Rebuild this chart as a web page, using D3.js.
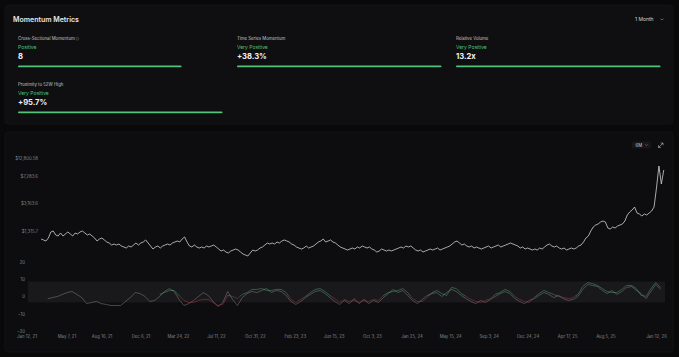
<!DOCTYPE html>
<html><head><meta charset="utf-8">
<script src="https://cdn.jsdelivr.net/npm/d3@7"></script>
<style>
html,body{margin:0;padding:0;background:#0a0a0b;overflow:hidden}
svg{display:block;font-family:Inter,"Noto Sans",sans-serif}
</style>
</head><body>
<svg id="c" width="679" height="357"></svg>
<script>
// ---------- data ----------
const panelTitle = "Momentum Metrics";
const periodLabel = "1 Month";
const rangeLabel = "6M";
const cardLabels = ["Cross-Sectional Momentum", "Time Series Momentum", "Relative Volume", "Proximity to 52W High"];
const cardStatus = ["Positive", "Very Positive", "Very Positive", "Very Positive"];
const cardValues = ["8", "+38.3%", "13.2x", "+95.7%"];
const cardScores = [0.8, 1, 1, 1];

const priceStart = "2021-02-23";
const priceStepDays = 7;
const prices = [
 1024, 993, 962, 1057, 1275, 1316, 1161, 1125, 1236, 1125,
 1198, 1275, 1198, 1125, 1236, 1198, 1275, 1316, 1236, 1161,
 1198, 1125, 1057, 962, 1024, 1057, 993, 932, 903, 848,
 875, 848, 875, 822, 797, 772, 822, 797, 848, 903,
 848, 903, 932, 993, 903, 822, 748, 797, 822, 772,
 822, 848, 875, 848, 903, 932, 962, 932, 1024, 1090,
 932, 822, 797, 848, 797, 772, 797, 772, 822, 797,
 822, 848, 797, 748, 703, 725, 681, 660, 703, 725,
 748, 725, 681, 640, 620, 601, 660, 725, 703, 725,
 772, 797, 848, 903, 875, 903, 875, 932, 903, 962,
 993, 962, 932, 875, 848, 797, 772, 748, 772, 822,
 772, 797, 822, 875, 932, 962, 1024, 932, 962, 993,
 932, 903, 848, 797, 772, 748, 725, 748, 772, 748,
 797, 772, 822, 797, 772, 797, 748, 725, 681, 703,
 748, 725, 703, 725, 703, 725, 748, 772, 797, 772,
 822, 797, 822, 772, 725, 703, 725, 681, 703, 725,
 748, 725, 748, 772, 725, 748, 772, 797, 822, 875,
 932, 962, 903, 848, 875, 822, 797, 822, 772, 797,
 772, 748, 772, 797, 822, 772, 797, 822, 848, 797,
 822, 848, 875, 903, 875, 848, 822, 772, 797, 748,
 772, 748, 725, 748, 725, 772, 748, 797, 848, 875,
 822, 797, 822, 772, 748, 772, 725, 748, 772, 748,
 772, 822, 848, 932, 1057, 1125, 1316, 1491, 1588, 1638,
 1744, 1800, 1744, 1445, 1401, 1491, 1445, 1539, 1588, 1638,
 1800, 2172, 2386, 2540, 2791, 2312, 2241, 2105, 2241, 2172,
 2312, 2462, 2791, 5064, 10090, 5740, 8900
];
const priceTicks = [1315.7, 3163.6, 7283.6, 12800.58];
const priceTickLabels = ["$1,315.7", "$3,163.6", "$7,283.6", "$12,800.58"];
const priceDomain = [564.6, 14240];

const momStart = "2021-03-14";
const momStepDays = 14;
const momGray = [
 -1.3, -0.6, 0, 1.2, 2.3, 2.9, 1.2, -0.6, -4.1, -3.5,
 -2.9, -4.1, -4.6, -5.2, -5.2, -5.2, -2.9, -0.6, 2.3, 1.7,
 0, -2.9, -2.3, 0, 2.9, 4.6, 2.9, -1.7, -5.2, -4.1,
 -2.3, 0, 2.3, 0.6, -2.9, -5.8, -3.5, 2.9, -1.7, -5.2,
 -0.6, 1.7, 2.9, 2.3, 3.5, 4.6, 2.3, 3.5, 2.9, 0.6,
 -2.9, -4.6, -2.9, -0.6, 1.2, 2.9, 3.5, 1.7, -0.6, -2.9,
 -4.6, -2.3, -4.1, -1.2, -4.1, -1.7, -4.1, -2.3, -3.5, -0.6,
 1.7, 4.1, 2.3, 3.5, 0.6, -2.3, -4.1, -1.7, 0.6, 1.7,
 2.3, 0, 2.3, 4.1, 2.9, 0.6, -1.2, -2.9, -4.1, -2.3,
 -3.5, -1.7, 0, 1.7, 2.9, 1.7, -1.2, -2.9, -4.1, -2.3,
 -1.2, 0.6, 2.3, 1.2, -0.6, 0.6, -1.2, -2.3, -1.7, 0,
 4.1, 7.0, 6.4, 5.8, 3.5, 1.7, 3.5, 1.2, 2.9, 5.2,
 5.8, 3.5, 1.7, -1.2, 2.9, 7.0, 4.1
];
const momColored = [
 null, null, null, null, null, null, null, null, null, null,
 null, null, null, null, null, null, null, null, null, null,
 null, null, null, 1.2, 2.3, 3.5, 3.5, 0.6, -2.3, -3.5,
 -3.5, -2.3, -1.7, -1.7, -3.5, -5.2, -4.6, 0.6, 0, -1.2,
 1.2, 2.3, 4.1, 4.1, 4.6, 3.5, 3.5, 4.1, 4.1, 2.3,
 -1.7, -3.5, -1.7, 0, 2.3, 4.1, 4.6, 2.9, 0.6, -1.2,
 -3.5, -1.7, -2.9, -2.3, -3.5, -2.3, -2.9, -1.7, -2.3, 0.6,
 2.3, 2.9, 3.5, 4.6, 2.3, -1.2, -2.9, -2.9, -0.6, 2.3,
 3.5, 1.7, 0.6, 5.2, 4.6, 1.7, 0, -1.7, -2.9, -3.5,
 -2.3, -1.2, 1.2, 2.3, 4.1, 2.9, 0, -1.7, -2.9, -3.5,
 -0.6, 1.7, 3.5, 2.3, 1.2, 0, -0.6, -1.2, -0.6, 1.2,
 5.8, 8.1, 7.5, 6.4, 4.6, 2.9, 2.3, 2.3, 4.1, 6.4,
 6.4, 4.6, 0.6, 0, 4.6, 8.1, 5.2
];
const momTicks = [20, 10, 0, -10, -20];
const momDomain = [-20, 20];
const neutralBand = [-3.5, 8.7];

const dateDomain = ["2021-01-12", "2026-01-12"];
const dateTicks = ["2021-01-12","2021-05-07","2021-08-16","2021-12-06","2022-03-24","2022-07-11","2022-10-31","2023-02-23","2023-06-15","2023-10-03","2024-01-25","2024-05-15","2024-09-03","2024-12-24","2025-04-17","2025-08-05","2026-01-12"];
const dateTickLabels = ["Jan 12, 21","May 7, 21","Aug 16, 21","Dec 6, 21","Mar 24, 22","Jul 11, 22","Oct 31, 22","Feb 23, 23","Jun 15, 23","Oct 3, 23","Jan 25, 24","May 15, 24","Sep 3, 24","Dec 24, 24","Apr 17, 25","Aug 5, 25","Jan 12, 26"];

// ---------- drawing ----------
const parse = d3.timeParse("%Y-%m-%d");
const svg = d3.select("#c");
const W = 679, H = 357;
const GREEN = "#52c47a", RED = "#b43a48";
const FONT = "Inter,'Noto Sans',sans-serif";

svg.append("rect").attr("width", W).attr("height", H).attr("fill", "#09090a");

// panels
svg.append("rect").attr("x", 5).attr("y", 5).attr("width", 668).attr("height", 119).attr("rx", 3)
  .attr("fill", "#0f0f11").attr("stroke", "#18181b").attr("stroke-width", 0.6);
svg.append("rect").attr("x", 5).attr("y", 132).attr("width", 668).attr("height", 220).attr("rx", 3)
  .attr("fill", "#0d0d0f").attr("stroke", "#18181b").attr("stroke-width", 0.6);

// header
svg.append("text").attr("x", 13).attr("y", 21.5).attr("fill", "#e8e8e8")
  .attr("font-size", 7).attr("font-weight", 600).text(panelTitle);
svg.append("text").attr("x", 635).attr("y", 21).attr("fill", "#d6d6d6")
  .attr("font-size", 5).text(periodLabel);
svg.append("path").attr("d", "M660.5,18.6 L662,20.1 L663.5,18.6").attr("fill", "none")
  .attr("stroke", "#bbb").attr("stroke-width", 0.5);

// cards
const cardX = [18, 237, 456, 18];
const cardY = [0, 0, 0, 46];
const barW = d3.scaleLinear().domain([0, 1]).range([0, 204.5]);
cardLabels.forEach((lab, i) => {
  const g = svg.append("g").attr("transform", `translate(${cardX[i]},${cardY[i]})`);
  const t = g.append("text").attr("x", 0).attr("y", 40.3).attr("fill", "#c4c4c4")
    .attr("font-size", 4.3).text(lab);
  if (i === 0) {
    const w = t.node().getComputedTextLength();
    g.append("circle").attr("cx", w + 2.6).attr("cy", 38.8).attr("r", 1.4)
      .attr("fill", "none").attr("stroke", "#999").attr("stroke-width", 0.35);
  }
  g.append("text").attr("x", 0).attr("y", 48.6).attr("fill", GREEN)
    .attr("font-size", 5).text(cardStatus[i]);
  g.append("text").attr("x", 0).attr("y", 59.4).attr("fill", "#f2f2f2")
    .attr("font-size", 7.6).attr("font-weight", 700).text(cardValues[i]);
  g.append("rect").attr("x", 0).attr("y", 65.4).attr("height", 1.8).attr("rx", 0.9)
    .attr("width", barW(cardScores[i])).attr("fill", GREEN);
});

// chart controls
svg.append("rect").attr("x", 632).attr("y", 141.5).attr("width", 19).attr("height", 7).attr("rx", 1.5).attr("fill", "#17171a");
svg.append("text").attr("x", 635.5).attr("y", 146.6).attr("fill", "#cfcfcf").attr("font-size", 4.3).text(rangeLabel);
svg.append("path").attr("d", "M645.3,144.4 L646.5,145.6 L647.7,144.4").attr("fill", "none").attr("stroke", "#aaa").attr("stroke-width", 0.45);
svg.append("path").attr("d", "M658.5,147.5 L663,143 M660.7,143 L663,143 L663,145.3 M658.5,145.2 L658.5,147.5 L660.8,147.5")
  .attr("fill", "none").attr("stroke", "#cfcfcf").attr("stroke-width", 0.55);

// scales
const x = d3.scaleTime().domain(dateDomain.map(parse)).range([26.5, 661]);
const yP = d3.scaleLog().domain(priceDomain).range([258, 155]);
const yM = d3.scaleLinear().domain(momDomain).range([331, 262]);

const p0 = parse(priceStart);
const priceData = prices.map((v, i) => ({ date: d3.timeDay.offset(p0, i * priceStepDays), v }));
const m0 = parse(momStart);
const grayData = momGray.map((v, i) => ({ date: d3.timeDay.offset(m0, i * momStepDays), v }));
const colData = momColored.map((v, i) => ({ date: d3.timeDay.offset(m0, i * momStepDays), v }));

// price axis
const axP = svg.append("g").attr("transform", "translate(38,0)")
  .call(d3.axisLeft(yP).tickValues(priceTicks).tickFormat((d, i) => priceTickLabels[i]).tickSize(0).tickPadding(0));
axP.select(".domain").remove();
axP.selectAll("text").attr("fill", "#858585").attr("font-size", 4.3).attr("font-family", FONT);

// price line
svg.append("path").datum(priceData)
  .attr("d", d3.line().x(d => x(d.date)).y(d => yP(d.v)))
  .attr("fill", "none").attr("stroke", "#d0d0d0").attr("stroke-width", 0.8).attr("stroke-linejoin", "round");

// momentum band
svg.append("rect").attr("x", 28).attr("width", 637)
  .attr("y", yM(neutralBand[1])).attr("height", yM(neutralBand[0]) - yM(neutralBand[1]))
  .attr("fill", "#19191c");

const axM = svg.append("g").attr("transform", "translate(25,0)")
  .call(d3.axisLeft(yM).tickValues(momTicks).tickFormat(d3.format("d")).tickSize(0).tickPadding(0));
axM.select(".domain").remove();
axM.selectAll("text").attr("fill", "#858585").attr("font-size", 4.3).attr("font-family", FONT);

// momentum lines
const mLine = d3.line().defined(d => d.v != null).x(d => x(d.date)).y(d => yM(d.v));
svg.append("path").datum(grayData).attr("d", mLine)
  .attr("fill", "none").attr("stroke", "#9a9a9a").attr("stroke-opacity", 0.7).attr("stroke-width", 0.6);

const defs = svg.append("defs");
defs.append("clipPath").attr("id", "above").append("rect")
  .attr("x", 0).attr("y", 0).attr("width", W).attr("height", yM(0));
defs.append("clipPath").attr("id", "below").append("rect")
  .attr("x", 0).attr("y", yM(0)).attr("width", W).attr("height", H - yM(0));
svg.append("path").datum(colData).attr("d", mLine).attr("clip-path", "url(#above)")
  .attr("fill", "none").attr("stroke", GREEN).attr("stroke-opacity", 0.7).attr("stroke-width", 0.6);
svg.append("path").datum(colData).attr("d", mLine).attr("clip-path", "url(#below)")
  .attr("fill", "none").attr("stroke", RED).attr("stroke-opacity", 0.8).attr("stroke-width", 0.6);

// date axis
const axX = svg.append("g").attr("transform", "translate(0,335)")
  .call(d3.axisBottom(x).tickValues(dateTicks.map(parse)).tickFormat((d, i) => dateTickLabels[i]).tickSize(0).tickPadding(0));
axX.select(".domain").remove();
axX.selectAll("text").attr("fill", "#858585").attr("font-size", 4.3).attr("font-family", FONT);
axX.selectAll(".tick").filter((d, i, n) => i === n.length - 1).select("text").attr("dx", -5);
</script>
</body></html>
